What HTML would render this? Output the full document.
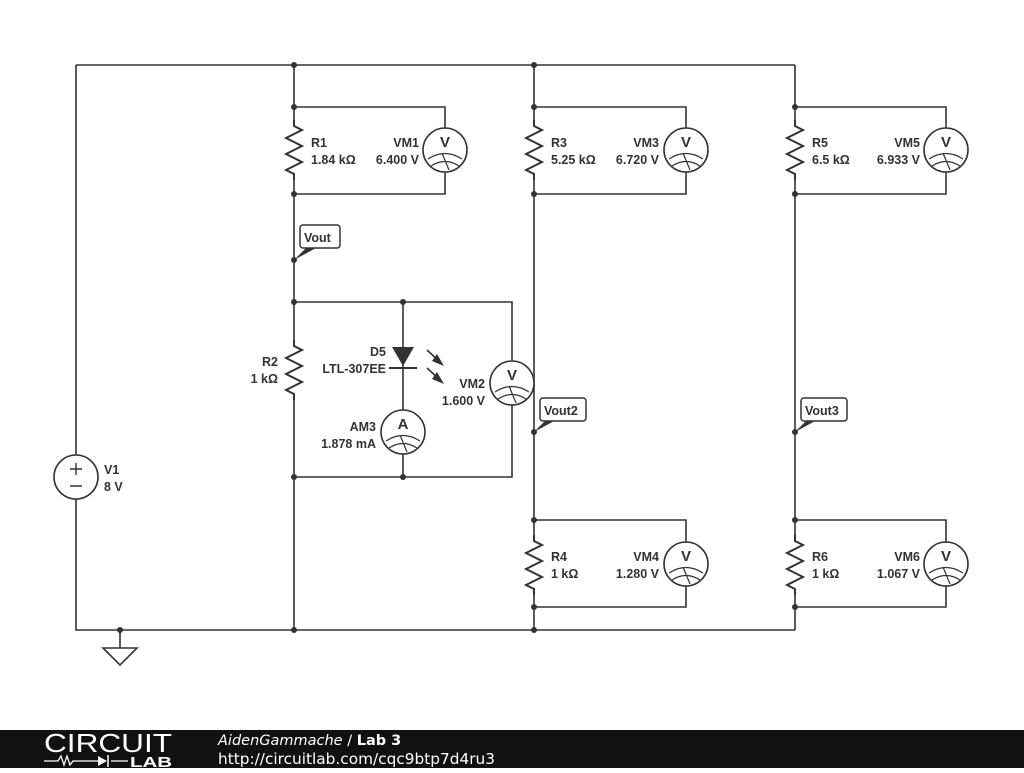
<!DOCTYPE html>
<html><head><meta charset="utf-8"><style>
body{margin:0;background:#fff;width:1024px;height:768px;overflow:hidden;font-family:"Liberation Sans",sans-serif}
svg text{font-family:"Liberation Sans",sans-serif;font-weight:bold;font-size:12.5px;fill:#333}
</style></head><body>
<svg width="1024" height="768" viewBox="0 0 1024 768" xmlns="http://www.w3.org/2000/svg">
<defs>
<path id="res" d="M0,-30 L0,-24 L8,-20 L-8,-12 L8,-4 L-8,4 L8,12 L-8,20 L0,24 L0,30" fill="none" stroke="#333" stroke-width="2"/>
<g id="met"><circle r="22" fill="#fff" stroke="#333" stroke-width="1.6"/>
<path d="M-17,9 Q0,-2 17,9 M-14,16 Q0,7 14,16 M-3,3 L4,20" fill="none" stroke="#333" stroke-width="1.2"/></g>
</defs>
<g stroke="#333" stroke-width="1.6" fill="none">
<path d="M76,65 H795 M76,65 V455 M76,499 V630 H795"/>
<path d="M120,630 V648"/><path d="M103,648 H137 L120,665 Z"/>
<path d="M294,65 V120 M294,180 V340 M294,400 V630"/>
<path d="M294,107 H445 V128 M445,172 V194 H294"/>
<path d="M294,302 H512 V361 M512,405 V477 H294"/>
<path d="M403,302 V410 M403,454 V477"/>
<path d="M534,65 V120 M534,180 V535 M534,595 V630"/>
<path d="M534,107 H686 V128 M686,172 V194 H534"/>
<path d="M534,520 H686 V542 M686,586 V607 H534"/>
<path d="M795,65 V120 M795,180 V535 M795,595 V630"/>
<path d="M795,107 H946 V128 M946,172 V194 H795"/>
<path d="M795,520 H946 V542 M946,586 V607 H795"/>
<path d="M427,350 L440,362 M427,368 L440,380"/>
</g>
<path d="M437,354 L444,366 L432,361 Z M437,372 L444,384 L432,379 Z" fill="#333"/>
<path d="M392,347 H414 L403,366 Z" fill="#333"/>
<path d="M389,368 H417" stroke="#333" stroke-width="2"/>
<use href="#res" x="294" y="150"/><use href="#res" x="294" y="370"/>
<use href="#res" x="534" y="150"/><use href="#res" x="534" y="565"/>
<use href="#res" x="795" y="150"/><use href="#res" x="795" y="565"/>
<circle cx="76" cy="477" r="22" fill="#fff" stroke="#333" stroke-width="1.6"/>
<path d="M70,469 H82 M76,463 V475 M70,486 H82" stroke="#333" stroke-width="1.4"/>
<use href="#met" x="445" y="150"/><use href="#met" x="686" y="150"/><use href="#met" x="946" y="150"/>
<use href="#met" x="512" y="383"/><use href="#met" x="403" y="432"/>
<use href="#met" x="686" y="564"/><use href="#met" x="946" y="564"/>
<g text-anchor="middle">
<text x="445" y="147" style="font-size:15px">V</text><text x="686" y="147" style="font-size:15px">V</text><text x="946" y="147" style="font-size:15px">V</text>
<text x="512" y="380" style="font-size:15px">V</text><text x="403" y="429" style="font-size:15px">A</text>
<text x="686" y="561" style="font-size:15px">V</text><text x="946" y="561" style="font-size:15px">V</text>
</g>
<g fill="#333">
<circle cx="294" cy="65" r="3"/><circle cx="534" cy="65" r="3"/>
<circle cx="294" cy="107" r="3"/><circle cx="294" cy="194" r="3"/><circle cx="294" cy="260" r="3"/><circle cx="294" cy="302" r="3"/><circle cx="403" cy="302" r="3"/><circle cx="294" cy="477" r="3"/><circle cx="403" cy="477" r="3"/><circle cx="294" cy="630" r="3"/>
<circle cx="534" cy="107" r="3"/><circle cx="534" cy="194" r="3"/><circle cx="534" cy="432" r="3"/><circle cx="534" cy="520" r="3"/><circle cx="534" cy="607" r="3"/><circle cx="534" cy="630" r="3"/>
<circle cx="795" cy="107" r="3"/><circle cx="795" cy="194" r="3"/><circle cx="795" cy="432" r="3"/><circle cx="795" cy="520" r="3"/><circle cx="795" cy="607" r="3"/>
<circle cx="120" cy="630" r="3"/>
</g>
<g>
<path d="M294,260 L306,248 H316 Z M534,432 L546,420 H556 Z M795,432 L807,420 H817 Z" fill="#333"/>
<rect x="300" y="225" width="40" height="23" rx="3" fill="#fff" stroke="#333" stroke-width="1.5"/>
<rect x="540" y="398" width="46" height="23" rx="3" fill="#fff" stroke="#333" stroke-width="1.5"/>
<rect x="801" y="398" width="46" height="23" rx="3" fill="#fff" stroke="#333" stroke-width="1.5"/>
<text x="304" y="242">Vout</text><text x="544" y="415">Vout2</text><text x="805" y="415">Vout3</text>
</g>
<text x="311" y="147">R1</text><text x="311" y="164">1.84 kΩ</text>
<text x="551" y="147">R3</text><text x="551" y="164">5.25 kΩ</text>
<text x="812" y="147">R5</text><text x="812" y="164">6.5 kΩ</text>
<text x="551" y="561">R4</text><text x="551" y="578">1 kΩ</text>
<text x="812" y="561">R6</text><text x="812" y="578">1 kΩ</text>
<text x="104" y="474">V1</text><text x="104" y="491">8 V</text>
<g text-anchor="end">
<text x="419" y="147">VM1</text><text x="419" y="164">6.400 V</text>
<text x="659" y="147">VM3</text><text x="659" y="164">6.720 V</text>
<text x="920" y="147">VM5</text><text x="920" y="164">6.933 V</text>
<text x="659" y="561">VM4</text><text x="659" y="578">1.280 V</text>
<text x="920" y="561">VM6</text><text x="920" y="578">1.067 V</text>
<text x="485" y="388">VM2</text><text x="485" y="405">1.600 V</text>
<text x="376" y="431">AM3</text><text x="376" y="448">1.878 mA</text>
<text x="386" y="356">D5</text><text x="386" y="373">LTL-307EE</text>
<text x="278" y="366">R2</text><text x="278" y="383">1 kΩ</text>
</g>
<rect x="0" y="730" width="1024" height="38" fill="#111"/>
<text x="44" y="752" textLength="128" lengthAdjust="spacingAndGlyphs" style="font-weight:normal;font-size:26px;fill:#fff">CIRCUIT</text>
<path d="M44,761 H58 L61,756 L64,765 L67,756 L70,765 L73,761 H98 M111,761 H128" stroke="#fff" stroke-width="1.3" fill="none"/>
<path d="M98,756 L107,761 L98,766 Z" fill="#fff"/><path d="M108,755 V767" stroke="#fff" stroke-width="1.5"/>
<text x="130" y="767" textLength="42" lengthAdjust="spacingAndGlyphs" style="font-size:15px;fill:#fff">LAB</text>
<text x="218" y="745" style="font-family:'DejaVu Sans',sans-serif;font-weight:normal;font-style:italic;font-size:14.5px;fill:#fff">AidenGammache <tspan font-style="normal">/</tspan> <tspan font-weight="bold" font-style="normal">Lab 3</tspan></text>
<text x="218" y="764" textLength="277" lengthAdjust="spacingAndGlyphs" style="font-family:'DejaVu Sans',sans-serif;font-weight:normal;font-size:15px;fill:#fff">http://circuitlab.com/cqc9btp7d4ru3</text>
</svg>
</body></html>
